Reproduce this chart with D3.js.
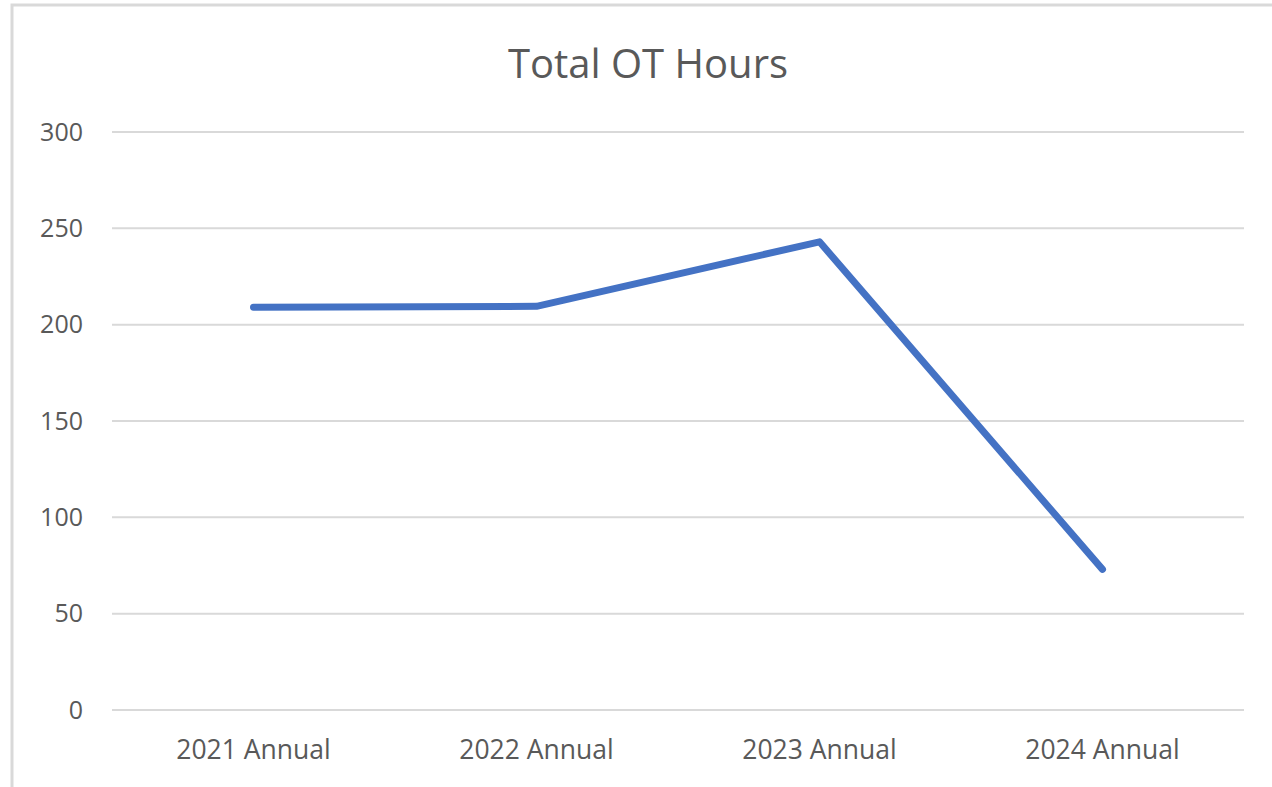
<!DOCTYPE html>
<html>
<head>
<meta charset="utf-8">
<script src="https://cdn.jsdelivr.net/npm/d3@7"></script>
<style>
  body { margin: 0; background: #fff; }
  text { font-family: "Open Sans", Lato, sans-serif; fill: #595959; }
</style>
</head>
<body>
<div id="graphic"></div>
<script>
// data
var categories = ["2021 Annual", "2022 Annual", "2023 Annual", "2024 Annual"];
var otHours = [209, 209.5, 243, 73];
var yTicks = [0, 50, 100, 150, 200, 250, 300];

var svg = d3.select("#graphic").append("svg")
        .attr("width", 1272)
        .attr("height", 787);

svg.append("rect")
        .attr("width", 1272).attr("height", 787)
        .style("fill", "#fff");

// chart border (runs off right / bottom)
svg.append("rect")
        .attr("x", 12).attr("y", 5)
        .attr("width", 1300).attr("height", 820)
        .style("fill", "none")
        .style("stroke", "#d9d9d9")
        .style("stroke-width", 3);

var x = d3.scaleBand()
        .domain(categories)
        .range([112, 1244]);

var y = d3.scaleLinear()
        .domain([0, 300])
        .range([710, 132]);

// gridlines
svg.append("g").selectAll("line")
        .data(yTicks)
        .enter().append("line")
        .attr("x1", 112).attr("x2", 1244)
        .attr("y1", function(d) { return y(d); })
        .attr("y2", function(d) { return y(d); })
        .style("stroke", "#d9d9d9")
        .style("stroke-width", 2);

// y labels
svg.append("g").selectAll("text")
        .data(yTicks)
        .enter().append("text")
        .attr("x", 83)
        .attr("y", function(d) { return y(d); })
        .attr("dy", "0.35em")
        .attr("text-anchor", "end")
        .style("font-size", "25px")
        .text(function(d) { return d; });

// x labels
svg.append("g").selectAll("text")
        .data(categories)
        .enter().append("text")
        .attr("x", function(d) { return x(d) + x.bandwidth() / 2; })
        .attr("y", 759)
        .attr("text-anchor", "middle")
        .style("font-size", "26.5px")
        .text(function(d) { return d; });

// line
var line = d3.line()
        .x(function(d, i) { return x(categories[i]) + x.bandwidth() / 2; })
        .y(function(d) { return y(d); });

svg.append("path")
        .datum(otHours)
        .attr("d", line)
        .style("fill", "none")
        .style("stroke", "#4472c4")
        .style("stroke-width", 7)
        .style("stroke-linecap", "round")
        .style("stroke-linejoin", "round");

svg.append("text")
        .attr("x", 648)
        .attr("y", 78)
        .attr("text-anchor", "middle")
        .style("font-size", "40px")
        .text("Total OT Hours");
</script>
</body>
</html>
